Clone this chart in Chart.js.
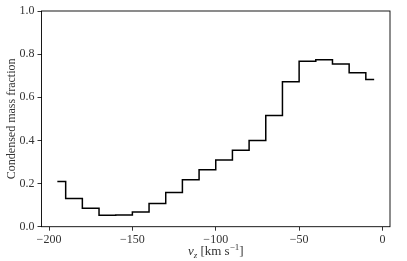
<!DOCTYPE html>
<html>
<head>
<meta charset="utf-8">
<script src="https://cdn.jsdelivr.net/npm/chart.js@4"></script>
<style>
  html, body { margin: 0; padding: 0; background: #fff; }
  #wrap { width: 407px; height: 261px; }
</style>
</head>
<body>
<div id="wrap"><canvas id="chart" width="407" height="261"></canvas></div>
<script>
// bin centres of v_z (km/s) and the condensed mass fraction in each bin
const vzCentres = [-195, -185, -175, -165, -155, -145, -135, -125, -115, -105,
                   -95, -85, -75, -65, -55, -45, -35, -25, -15, -5];
const condensedFrac = [0.209, 0.131, 0.085, 0.053, 0.054, 0.068, 0.108, 0.159, 0.218, 0.264,
                       0.309, 0.354, 0.400, 0.515, 0.672, 0.767, 0.774, 0.754, 0.714, 0.683];
const xTickValues = [-200, -150, -100, -50, 0];
const yTickValues = [0, 0.2, 0.4, 0.6, 0.8, 1.0];

const FONT = "'Liberation Serif', 'DejaVu Serif', serif";
const TEXT = '#333';

function fmtMinus(v, digits) {
    const s = Math.abs(v).toFixed(digits);
    return v < 0 ? '\u2212' + s : s;
}

// frame box + axis titles (x title needs sub/superscripts)
const decor = {
    id: 'decor',
    afterDraw(chart) {
        const { ctx, chartArea: a } = chart;
        ctx.save();
        ctx.strokeStyle = '#000';
        ctx.lineWidth = 0.9;
        ctx.strokeRect(a.left, a.top, a.right - a.left, a.bottom - a.top);

        ctx.fillStyle = TEXT;
        // y title
        ctx.translate(12, (a.top + a.bottom) / 2);
        ctx.rotate(-Math.PI / 2);
        ctx.font = '12px ' + FONT;
        ctx.textAlign = 'center';
        ctx.textBaseline = 'middle';
        ctx.fillText('Condensed mass fraction', 0, 0);
        ctx.setTransform(1, 0, 0, 1, 0, 0);

        // x title: v_z [km s^-1]
        const parts = [
            { t: 'v', f: 'italic 13px ' + FONT, dy: 0 },
            { t: 'z', f: 'italic 9px ' + FONT, dy: 2.5 },
            { t: ' [km s', f: '13px ' + FONT, dy: 0 },
            { t: '\u22121', f: '9px ' + FONT, dy: -5 },
            { t: ']', f: '13px ' + FONT, dy: 0 }
        ];
        let total = 0;
        parts.forEach(p => { ctx.font = p.f; p.w = ctx.measureText(p.t).width; total += p.w; });
        let x = (a.left + a.right) / 2 - total / 2;
        const base = 255;
        ctx.textAlign = 'left';
        ctx.textBaseline = 'alphabetic';
        parts.forEach(p => {
            ctx.font = p.f;
            ctx.fillText(p.t, x, base + p.dy);
            x += p.w;
        });
        ctx.restore();
    }
};

new Chart(document.getElementById('chart').getContext('2d'), {
    type: 'line',
    data: {
        datasets: [{
            data: vzCentres.map((v, i) => ({ x: v, y: condensedFrac[i] })),
            stepped: 'middle',
            borderColor: '#000',
            borderWidth: 1.5,
            pointRadius: 0,
            fill: false
        }]
    },
    options: {
        responsive: false,
        animation: false,
        devicePixelRatio: 1,
        layout: { padding: { top: 11, right: 17, left: 0, bottom: 0 } },
        plugins: { legend: { display: false }, tooltip: { enabled: false } },
        scales: {
            x: {
                type: 'linear',
                min: -204.5,
                max: 4.5,
                afterBuildTicks: s => { s.ticks = xTickValues.map(v => ({ value: v })); },
                afterFit: s => { s.height = 34.3; },
                border: { display: false },
                grid: { drawOnChartArea: false, drawTicks: true, tickLength: 4, color: '#000', lineWidth: 0.8 },
                ticks: {
                    color: TEXT, padding: 2, maxRotation: 0,
                    font: { family: FONT, size: 12 },
                    callback: v => fmtMinus(v, 0)
                }
            },
            y: {
                min: 0,
                max: 1,
                afterBuildTicks: s => { s.ticks = yTickValues.map(v => ({ value: v })); },
                afterFit: s => { s.width = 41.5; },
                border: { display: false },
                grid: { drawOnChartArea: false, drawTicks: true, tickLength: 4, color: '#000', lineWidth: 0.8 },
                ticks: {
                    color: TEXT, padding: 3,
                    font: { family: FONT, size: 12 },
                    callback: v => fmtMinus(v, 1)
                }
            }
        }
    },
    plugins: [decor]
});
</script>
</body>
</html>
